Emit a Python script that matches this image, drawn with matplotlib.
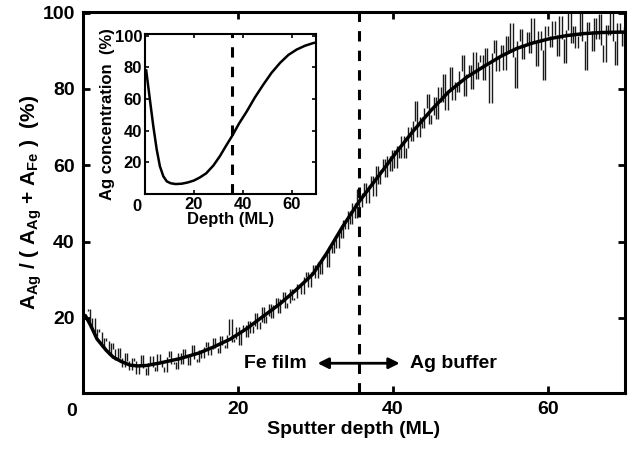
import numpy as np
import matplotlib
matplotlib.use("Agg")
import matplotlib.pyplot as plt

plt.rcParams['font.family'] = ['Liberation Sans', 'DejaVu Sans']
plt.rcParams['font.weight'] = 'bold'
plt.rcParams['mathtext.fontset'] = 'custom'
plt.rcParams['mathtext.rm'] = 'Liberation Sans:bold'
plt.rcParams['mathtext.it'] = 'Liberation Sans:bold'
plt.rcParams['mathtext.bf'] = 'Liberation Sans:bold'

# ---------------- data ----------------
# noisy measured trace (sputter depth grid, ML)
depth_start, depth_step = 0.3, 0.3
ratio_measured = [
    21.8, 22.4, 17.6, 19.9, 15.2, 17.1, 16.3, 12.4, 14.8, 13.9,
    10.2, 13.5, 11.8, 8.9, 12.0, 9.6, 7.1, 10.9, 8.8, 6.2,
    9.4, 8.6, 5.3, 7.7, 10.3, 6.9, 4.9, 8.1, 9.9, 7.0,
    6.1, 10.6, 8.8, 7.2, 5.8, 9.7, 11.3, 7.9, 8.4, 6.5,
    10.9, 8.0, 11.8, 9.7, 7.6, 10.2, 12.9, 9.1, 8.3, 11.5,
    9.6, 12.4, 13.8, 10.2, 11.9, 14.6, 12.0, 10.7, 15.2, 12.8,
    12.1, 15.5, 19.6, 13.8, 14.4, 17.5, 12.9, 16.8, 18.1, 15.0,
    19.2, 16.0, 17.9, 21.3, 17.2, 19.0, 22.8, 18.6, 20.4, 23.5,
    20.0, 23.4, 25.1, 21.2, 24.9, 26.8, 22.6, 23.9, 27.6, 24.8,
    25.1, 29.0, 28.9, 26.3, 30.7, 32.0, 28.2, 31.9, 33.8, 30.4,
    34.6, 31.5, 35.9, 36.8, 33.2, 38.9, 37.1, 40.6, 38.3, 42.9,
    41.0, 45.6, 43.4, 47.9, 44.6, 50.2, 46.3, 53.9, 49.0, 52.8,
    55.4, 50.1, 54.8, 57.2, 51.9, 59.8, 55.0, 58.7, 61.6, 56.9,
    62.5, 58.4, 63.9, 59.2, 65.1, 62.0, 67.8, 61.9, 64.5, 70.1,
    66.3, 71.5, 76.9, 67.4, 72.6, 69.8, 75.0, 78.6, 70.9, 73.2,
    77.8, 72.0, 80.4, 76.5, 83.9, 74.6, 79.6, 85.8, 77.2, 81.7,
    79.3, 84.7, 88.9, 78.1, 83.9, 86.3, 80.0, 89.6, 82.6, 87.0,
    88.9, 82.4, 90.7, 86.2, 76.2, 89.5, 92.9, 84.8, 88.6, 91.4,
    85.1, 93.8, 90.0, 97.4, 88.3, 80.2, 92.7, 95.6, 87.9, 91.6,
    94.9, 89.4, 98.6, 92.3, 86.0, 95.1, 90.2, 82.3, 96.4, 93.8,
    91.0, 97.8, 94.2, 88.6, 99.1, 93.0, 86.7, 95.5, 100.5, 92.1,
    96.4, 90.8, 94.0, 101.0, 92.7, 85.0, 97.6, 95.2, 89.9, 98.7,
    93.2, 99.6, 91.4, 87.0, 96.8, 94.1, 100.8, 92.5, 86.2, 97.4,
    95.0, 91.2, 96.3,
]
depth_measured = depth_start + depth_step * np.arange(len(ratio_measured))

# fitted (smooth) curve
depth_fit = [0.3, 1.0, 1.8, 3.0, 3.9, 5.0, 6.1, 7.0, 8.2, 10.0, 12.5, 15.0,
             16.8, 19.0, 21.1, 23.0, 25.4, 27.5, 29.7, 31.5, 33.5, 35.6,
             38.4, 40.5, 42.7, 45.0, 47.2, 49.5, 51.7, 54.0, 56.0, 58.0,
             60.3, 62.5, 64.6, 67.0, 69.4, 70.0]
ratio_fit = [20.6, 18.0, 14.5, 11.5, 9.7, 8.5, 7.6, 7.4, 7.5, 8.2, 9.3, 10.8,
             12.3, 14.4, 17.1, 20.0, 23.6, 27.3, 31.5, 37.0, 43.8, 50.3,
             57.8, 63.5, 69.1, 74.5, 79.2, 83.0, 85.8, 88.6, 90.6, 92.0,
             93.2, 94.0, 94.5, 94.8, 94.9, 94.9]

# inset: Ag concentration profile
depth_inset = [0.5, 2.0, 3.4, 4.8, 6.1, 7.5, 8.9, 10.5, 12.5, 15.0, 17.5, 20.0,
               22.5, 25.0, 28.0, 30.7, 33.0, 35.6, 38.5, 41.6, 45.0, 48.4,
               51.8, 55.3, 58.7, 62.1, 65.5, 68.9, 70.0]
conc_inset = [78.0, 59.6, 42.8, 28.0, 17.5, 11.2, 8.0, 6.8, 6.3, 6.5, 7.3, 8.5,
              10.5, 13.0, 18.0, 24.0, 30.0, 36.5, 44.5, 52.0, 61.0, 69.0,
              76.5, 82.8, 87.8, 91.2, 93.6, 95.3, 95.6]

interface_depth = 35.6
x_ticks = [0, 20, 40, 60]
y_ticks = [20, 40, 60, 80, 100]

# ---------------- figure ----------------
fig = plt.figure(figsize=(6.31, 4.51), dpi=100)
ax = fig.add_axes([0.1315, 0.1286, 0.859, 0.845])

# measured trace drawn as vertical strokes between successive readings
meas = np.asarray(ratio_measured)
ax.vlines(depth_measured[1:], np.minimum(meas[:-1], meas[1:]),
          np.maximum(meas[:-1], meas[1:]), color='#1a1a1a', lw=1.0)
ax.plot(depth_fit, ratio_fit, color='black', lw=2.5, solid_capstyle='round')
ax.axvline(interface_depth, color='black', lw=2.2, ls=(0, (3.4, 3.0)))

ax.set_xlim(0, 70)
ax.set_ylim(0.3, 100.2)
ax.set_xticks(x_ticks, [''] + [str(t) for t in x_ticks[1:]])
ax.set_yticks(y_ticks)
ax.annotate('0', xy=(0, 0), xycoords=('data', 'axes fraction'),
            xytext=(-8, -7.5), textcoords='offset points',
            ha='center', va='top', fontsize=14, fontweight='bold')
ax.tick_params(direction='in', length=5, width=2, top=True, right=True,
               labelsize=14, pad=6)
for s in ax.spines.values():
    s.set_linewidth(2.2)
ax.set_xlabel('Sputter depth (ML)', fontsize=14, fontweight='bold', labelpad=2)
ax.set_ylabel(r'$\mathregular{A_{Ag}}$ / ( $\mathregular{A_{Ag}}$ + $\mathregular{A_{Fe}}$ )  (%)',
              fontsize=15, fontweight='bold', labelpad=-1)

# arrow and labels
ax.annotate('', xy=(30.3, 8.1), xytext=(40.9, 8.1),
            arrowprops=dict(arrowstyle='<|-|>', color='black', lw=2,
                            mutation_scale=16, shrinkA=0, shrinkB=0))
ax.text(28.9, 8.1, 'Fe film', ha='right', va='center', fontsize=14, fontweight='bold')
ax.text(42.2, 8.1, 'Ag buffer', ha='left', va='center', fontsize=14, fontweight='bold')

# ---------------- inset ----------------
axi = fig.add_axes([0.2298, 0.5698, 0.271, 0.3548])
axi.plot(depth_inset, conc_inset, color='black', lw=1.8)
axi.axvline(interface_depth, color='black', lw=2.2, ls=(0, (3.4, 3.0)))
axi.set_xlim(0, 70)
axi.set_ylim(0, 101)
axi.set_xticks(x_ticks, [''] + [str(t) for t in x_ticks[1:]])
axi.set_yticks(y_ticks)
axi.annotate('0', xy=(0, 0), xycoords=('data', 'axes fraction'),
             xytext=(-6, -3.5), textcoords='offset points',
             ha='center', va='top', fontsize=12, fontweight='bold')
axi.tick_params(direction='in', length=3, width=1.2, top=True, right=True,
                labelsize=12, pad=2)
for s in axi.spines.values():
    s.set_linewidth(1.5)
axi.set_xlabel('Depth (ML)', fontsize=12, fontweight='bold', labelpad=0)
axi.set_ylabel('Ag concentration  (%)', fontsize=12, fontweight='bold', labelpad=0)

fig.savefig('out.png', dpi=100)
